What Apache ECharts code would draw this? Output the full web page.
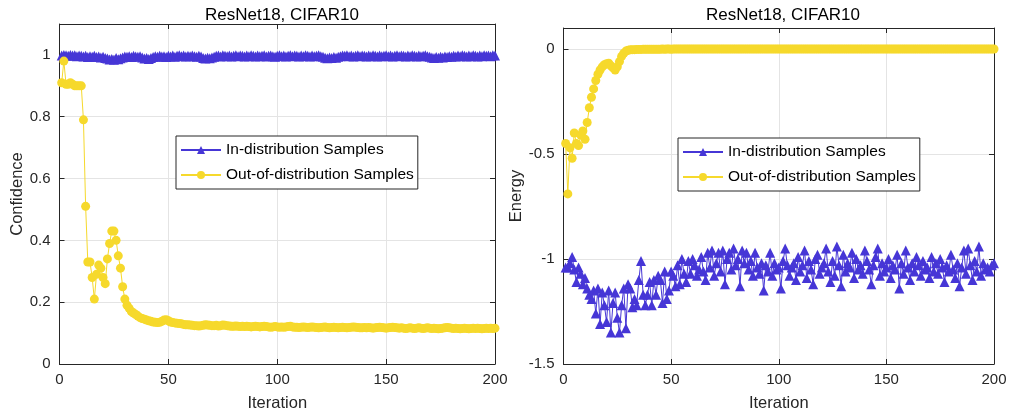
<!DOCTYPE html>
<html>
<head>
<meta charset="utf-8">
<script src="https://cdn.jsdelivr.net/npm/echarts@6/dist/echarts.min.js"></script>
<style>
html,body{margin:0;padding:0;background:#fff;}
#chart{width:1011px;height:417px;}
</style>
</head>
<body>
<div id="chart"></div>
<script>
// ---- data ----
const titles = ['ResNet18, CIFAR10', 'ResNet18, CIFAR10'];
const seriesNames = ['In-distribution Samples', 'Out-of-distribution Samples'];
const xTicks = [0, 50, 100, 150, 200];

const confIn = [
0.998,1.0,0.999,0.997,1.0,0.998,0.999,0.996,0.998,0.997,
0.995,0.997,0.993,0.996,0.994,0.997,0.993,0.995,0.992,0.994,
0.99,0.988,0.985,0.987,0.984,0.99,0.986,0.989,0.992,0.995,
0.994,0.996,0.993,0.997,0.995,0.994,0.996,0.992,0.988,0.99,
0.987,0.99,0.993,0.996,0.994,0.997,0.995,0.996,0.993,0.997,
0.995,0.998,0.994,0.997,0.999,0.996,0.998,0.995,0.997,0.996,
0.998,0.996,0.994,0.997,0.995,0.99,0.988,0.991,0.989,0.992,
0.994,0.997,0.998,0.995,0.999,0.997,0.996,0.998,0.995,0.997,
0.999,0.996,0.998,0.997,0.995,0.998,0.996,0.999,0.997,0.995,
0.998,0.996,0.997,0.999,0.995,0.997,0.998,0.996,0.994,0.997,
0.999,0.996,0.998,0.995,0.997,0.999,0.996,0.998,0.997,0.995,
0.998,0.996,0.999,0.997,0.995,0.998,0.996,0.997,0.999,0.996,
0.994,0.991,0.989,0.992,0.99,0.993,0.991,0.994,0.996,0.998,
0.997,0.999,0.996,0.998,0.995,0.997,0.999,0.996,0.998,0.997,
0.995,0.998,0.996,0.999,0.997,0.995,0.998,0.996,0.997,0.999,
0.996,0.998,0.995,0.997,0.999,0.996,0.998,0.997,0.995,0.998,
0.996,0.999,0.997,0.995,0.998,0.996,0.997,0.999,0.996,0.994,
0.992,0.99,0.993,0.991,0.994,0.992,0.995,0.993,0.996,0.994,
0.997,0.995,0.998,0.996,0.999,0.997,0.995,0.998,0.996,0.999,
0.997,0.995,0.998,0.996,0.999,0.997,0.998,0.996,0.999,0.998
];

const confOut = [
0.91,0.98,0.905,0.905,0.91,0.905,0.9,0.9,0.9,0.9,
0.79,0.51,0.33,0.33,0.28,0.21,0.29,0.32,0.31,0.28,
0.26,0.34,0.39,0.43,0.43,0.4,0.35,0.31,0.25,0.21,
0.19,0.18,0.17,0.165,0.16,0.155,0.15,0.147,0.145,0.142,
0.14,0.138,0.136,0.135,0.134,0.135,0.138,0.142,0.143,0.14,
0.136,0.134,0.133,0.132,0.131,0.13,0.128,0.127,0.127,0.126,
0.125,0.124,0.124,0.123,0.124,0.125,0.127,0.126,0.125,0.124,
0.124,0.125,0.123,0.124,0.126,0.125,0.124,0.123,0.122,0.122,
0.123,0.122,0.121,0.122,0.121,0.122,0.121,0.12,0.121,0.122,
0.121,0.12,0.121,0.122,0.121,0.12,0.119,0.12,0.121,0.12,
0.119,0.12,0.119,0.12,0.121,0.122,0.12,0.119,0.119,0.118,
0.119,0.12,0.119,0.118,0.119,0.12,0.119,0.118,0.117,0.118,
0.119,0.12,0.118,0.117,0.118,0.119,0.118,0.117,0.118,0.119,
0.118,0.117,0.118,0.119,0.12,0.119,0.118,0.117,0.117,0.118,
0.117,0.118,0.117,0.116,0.117,0.118,0.119,0.118,0.117,0.116,
0.117,0.118,0.119,0.118,0.117,0.116,0.117,0.116,0.115,0.116,
0.117,0.116,0.115,0.116,0.117,0.116,0.115,0.116,0.117,0.116,
0.115,0.116,0.115,0.114,0.115,0.116,0.117,0.118,0.117,0.116,
0.115,0.116,0.115,0.114,0.115,0.116,0.115,0.114,0.115,0.116,
0.115,0.116,0.115,0.114,0.115,0.116,0.115,0.116,0.115,0.116
];

const energyIn = [
-1.04,-1.04,-1.02,-0.99,-1.05,-1.11,-1.04,-1.07,-1.12,-1.09,
-1.14,-1.17,-1.19,-1.15,-1.26,-1.14,-1.31,-1.16,-1.22,-1.30,
-1.15,-1.35,-1.21,-1.16,-1.28,-1.35,-1.22,-1.14,-1.33,-1.12,
-1.14,-1.23,-1.19,-1.22,-1.10,-1.01,-1.17,-1.22,-1.17,-1.11,
-1.22,-1.10,-1.17,-1.08,-1.10,-1.21,-1.06,-1.19,-1.15,-1.06,
-1.08,-1.13,-1.03,-1.12,-1.00,-1.07,-1.11,-1.01,-1.07,-1.00,
-1.03,-1.08,-1.05,-0.99,-1.06,-1.10,-0.97,-1.04,-0.96,-1.08,
-1.02,-0.97,-1.06,-0.96,-1.12,-1.00,-0.97,-1.05,-0.95,-1.03,
-1.00,-1.13,-0.96,-1.02,-0.97,-1.05,-1.01,-1.08,-0.97,-1.04,
-1.07,-1.02,-1.15,-1.03,-1.06,-0.97,-1.08,-1.02,-1.05,-1.04,
-1.14,-1.01,-0.95,-1.03,-1.08,-1.04,-1.02,-1.10,-0.99,-1.06,
-1.03,-0.96,-1.09,-1.01,-1.05,-1.12,-1.00,-0.98,-1.07,-1.04,
-1.02,-0.95,-1.06,-1.11,-1.01,-1.08,-0.94,-1.03,-1.13,-0.98,
-1.06,-1.02,-1.04,-0.97,-1.09,-1.00,-1.05,-1.03,-1.07,-0.96,
-1.01,-1.05,-1.12,-1.03,-0.99,-0.95,-1.08,-1.02,-1.06,-1.04,
-1.00,-1.09,-1.03,-1.05,-0.98,-1.14,-1.02,-1.07,-0.96,-1.04,
-1.10,-1.02,-1.06,-0.99,-1.03,-1.08,-1.01,-1.05,-1.04,-1.09,
-0.99,-1.06,-1.02,-1.07,-1.00,-1.04,-1.11,-1.03,-1.06,-0.98,
-1.05,-1.09,-1.02,-1.13,-1.04,-0.96,-1.07,-0.95,-1.03,-1.10,
-1.01,-1.06,-0.94,-1.08,-1.02,-1.05,-1.04,-1.06,-1.03,-1.02
];

const energyOut = [
-0.45,-0.69,-0.47,-0.52,-0.40,-0.45,-0.46,-0.41,-0.39,-0.43,
-0.35,-0.28,-0.23,-0.19,-0.15,-0.12,-0.10,-0.085,-0.075,-0.07,
-0.068,-0.08,-0.09,-0.10,-0.085,-0.06,-0.035,-0.02,-0.01,-0.006,
-0.004,-0.003,-0.003,-0.002,-0.002,-0.002,-0.001,-0.001,-0.001,-0.001,
-0.001,-0.001,-0.001,-0.001,-0.001,0,-0.001,0,0,-0.001,
0,0,0,0,0,0,0,0,0,0,
0,0,0,0,0,0,0,0,0,0,
0,0,0,0,0,0,0,0,0,0,
0,0,0,0,0,0,0,0,0,0,
0,0,0,0,0,0,0,0,0,0,
0,0,0,0,0,0,0,0,0,0,
0,0,0,0,0,0,0,0,0,0,
0,0,0,0,0,0,0,0,0,0,
0,0,0,0,0,0,0,0,0,0,
0,0,0,0,0,0,0,0,0,0,
0,0,0,0,0,0,0,0,0,0,
0,0,0,0,0,0,0,0,0,0,
0,0,0,0,0,0,0,0,0,0,
0,0,0,0,0,0,0,0,0,0,
0,0,0,0,0,0,0,0,0,0
];

// ---- chart ----
const FONT = '"Liberation Sans", Arial, Helvetica, sans-serif';
const BLUE = '#4636d6';
const YELLOW = '#f6d92c';
const AXC = '#262626';
const GRIDC = '#e4e4e4';

const pairs = arr => arr.map((v, i) => [i + 1, v]);

function mainX(gi) {
  return {
    gridIndex: gi, type: 'value', min: 0, max: 200, interval: 50, position: 'bottom',
    name: 'Iteration', nameLocation: 'middle', nameGap: 31,
    nameTextStyle: {fontFamily: FONT, fontSize: 16.5, color: AXC},
    axisLine: {show: true, onZero: false, lineStyle: {color: AXC, width: 1}},
    axisTick: {show: true, inside: true, length: 5, lineStyle: {color: AXC}},
    axisLabel: {fontFamily: FONT, fontSize: 15, color: AXC, margin: 8},
    splitLine: {show: true, lineStyle: {color: GRIDC, width: 1}}
  };
}
function topX(gi) {
  return {
    gridIndex: gi, type: 'value', min: 0, max: 200, interval: 50, position: 'top',
    axisLine: {show: true, onZero: false, lineStyle: {color: AXC, width: 1}},
    axisTick: {show: true, inside: true, length: 5, lineStyle: {color: AXC}},
    axisLabel: {show: false}, splitLine: {show: false}
  };
}
function mainY(gi, min, max, interval, name, gap) {
  return {
    gridIndex: gi, type: 'value', min: min, max: max, interval: interval, position: 'left',
    name: name, nameLocation: 'middle', nameGap: gap, nameRotate: 90,
    nameTextStyle: {fontFamily: FONT, fontSize: 16.5, color: AXC},
    axisLine: {show: true, onZero: false, lineStyle: {color: AXC, width: 1}},
    axisTick: {show: true, inside: true, length: 5, lineStyle: {color: AXC}},
    axisLabel: {fontFamily: FONT, fontSize: 15, color: AXC, margin: 9, showMaxLabel: false},
    splitLine: {show: true, lineStyle: {color: GRIDC, width: 1}}
  };
}
function rightY(gi, min, max, interval) {
  return {
    gridIndex: gi, type: 'value', min: min, max: max, interval: interval, position: 'right',
    axisLine: {show: true, onZero: false, lineStyle: {color: AXC, width: 1}},
    axisTick: {show: true, inside: true, length: 5, lineStyle: {color: AXC}},
    axisLabel: {show: false}, splitLine: {show: false}
  };
}
function lineSeries(name, data, xi, yi, color, symbol) {
  return {
    name: name, type: 'line', xAxisIndex: xi, yAxisIndex: yi, data: data,
    symbol: symbol, symbolSize: symbol === 'triangle' ? 10 : 9, showAllSymbol: true,
    lineStyle: {color: color, width: 1}, itemStyle: {color: color, borderWidth: 0},
    emphasis: {disabled: true}
  };
}
function legendAt(left, top) {
  return {
    left: left, top: top, orient: 'vertical', data: seriesNames,
    backgroundColor: '#fff', borderColor: AXC, borderWidth: 1, borderRadius: 0,
    padding: [6, 4, 6, 4], itemGap: 9, itemWidth: 40, itemHeight: 10,
    textStyle: {fontFamily: FONT, fontSize: 15.5, color: '#000'},
    selectedMode: false
  };
}

const chart = echarts.init(document.getElementById('chart'), null, {renderer: 'canvas'});
chart.setOption({
  animation: false,
  backgroundColor: '#fff',
  title: [
    {text: titles[0], left: 277, top: 2, textAlign: 'center',
     textStyle: {fontFamily: FONT, fontSize: 17, fontWeight: 'normal', color: '#000'}},
    {text: titles[1], left: 778, top: 2, textAlign: 'center',
     textStyle: {fontFamily: FONT, fontSize: 17, fontWeight: 'normal', color: '#000'}}
  ],
  grid: [
    {left: 59.5, right: 516, top: 24, bottom: 53, containLabel: false},
    {left: 563.5, right: 17, top: 28, bottom: 53, containLabel: false}
  ],
  xAxis: [mainX(0), topX(0), mainX(1), topX(1)],
  yAxis: [mainY(0, 0, 1.1, 0.2, 'Confidence', 34), rightY(0, 0, 1.1, 0.2),
          mainY(1, -1.5, 0.1, 0.5, 'Energy', 37), rightY(1, -1.5, 0.1, 0.5)],
  legend: [legendAt(176, 136), legendAt(678, 138)],
  series: [
    lineSeries(seriesNames[0], pairs(confIn), 0, 0, BLUE, 'triangle'),
    lineSeries(seriesNames[1], pairs(confOut), 0, 0, YELLOW, 'circle'),
    lineSeries(seriesNames[0], pairs(energyIn), 2, 2, BLUE, 'triangle'),
    lineSeries(seriesNames[1], pairs(energyOut), 2, 2, YELLOW, 'circle')
  ]
});
</script>
</body>
</html>
